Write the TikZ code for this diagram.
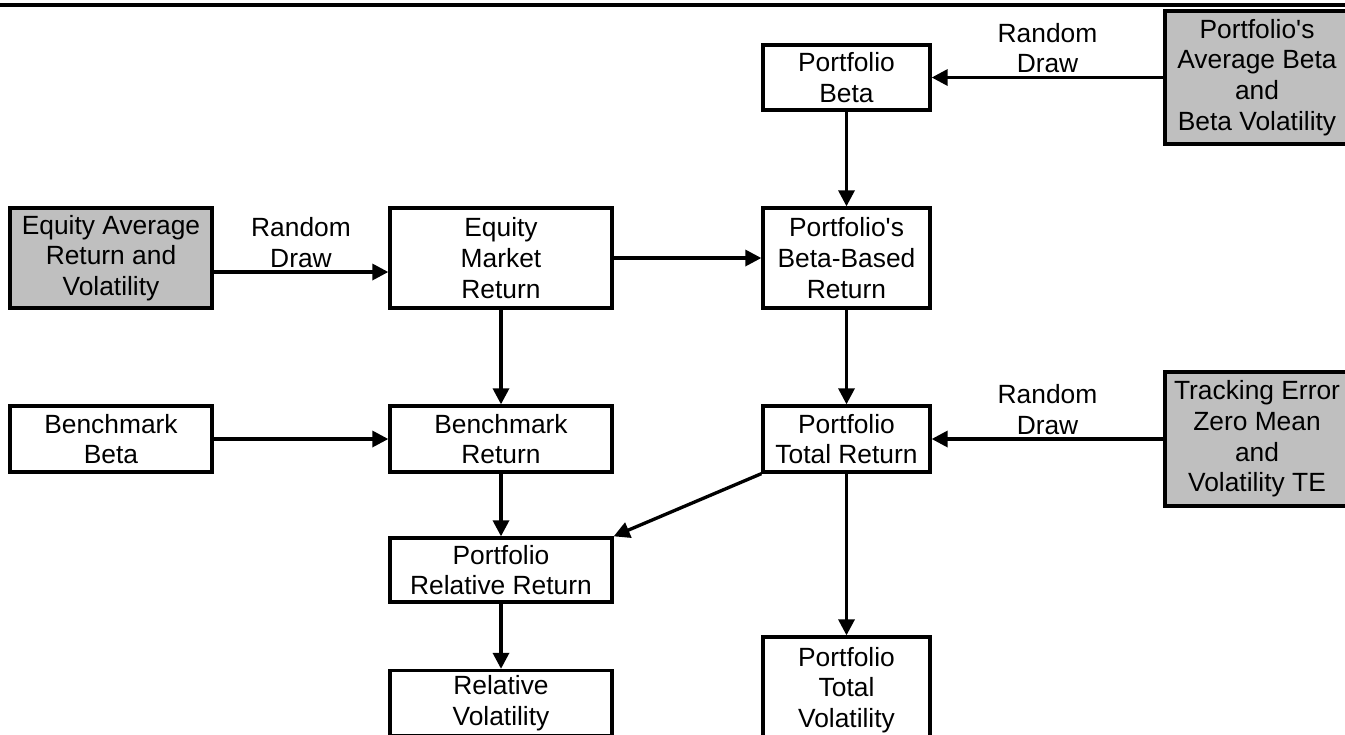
\documentclass[tikz,border=0pt]{standalone}
\usepackage{fontspec}
\setmainfont{Liberation Sans}
\usetikzlibrary{arrows.meta}
\newcommand{\figfont}{\fontsize{15}{17.5}\selectfont}

\begin{document}
\begin{tikzpicture}[>={Triangle[length=0.32cm, width=0.32cm]}, node distance=7.8cm]
    \tikzstyle{format} = [draw, line width=1.9pt, rectangle, align=center,
	inner sep=0pt, font=\figfont]
    \tikzstyle{input} = [format, fill=black!25, minimum width=3.68cm]
    \tikzstyle{label} = [above, align=center, inner sep=1.5pt, font=\figfont]
	\useasboundingbox (0,0) rectangle (26.9,-14.68);
	\clip (0,0) rectangle (26.9,-14.68);
	\draw[line width=1.9pt] (0,-0.1) -- (26.9,-0.1);
	\path[->, line width=1.9pt]
		node[input, minimum width=4.04cm, minimum height=2cm] (EqIn) at (2.22,-5.16) {Equity Average\\Return and\\Volatility}
		node[format, minimum width=4.44cm, minimum height=2cm, right of=EqIn] (EqRet) {Equity\\Market\\Return}
		node[format, minimum width=3.34cm, minimum height=2cm, node distance=6.91cm, right of=EqRet] (BBRet) {Portfolio\textquotesingle s\\Beta-Based\\Return}
		node[format, minimum width=3.34cm, minimum height=1.3cm, node distance=3.61cm, above of=BBRet] (PBeta) {Portfolio\\Beta}
		node[input, minimum height=2.66cm, node distance=8.21cm, right of=PBeta] (PAvg) {Portfolio\textquotesingle s\\Average Beta\\and\\Beta Volatility}
		node[format, minimum width=4.44cm, minimum height=1.32cm, node distance=3.62cm, below of=EqRet] (BmRet) {Benchmark\\Return}
		node[format, minimum width=4.04cm, minimum height=1.32cm, left of=BmRet] (BmBeta) {Benchmark\\Beta}
		node[format, minimum width=3.34cm, minimum height=1.32cm, node distance=3.62cm, below of=BBRet] (TotRet) {Portfolio\\Total Return}
		node[input, minimum height=2.68cm, node distance=8.21cm, right of=TotRet] (TE) {Tracking Error\\Zero Mean\\and\\Volatility TE}
		node[format, minimum width=4.44cm, minimum height=1.28cm, node distance=2.62cm, below of=BmRet] (RelRet) {Portfolio\\Relative Return}
		node[format, minimum width=4.44cm, minimum height=1.3cm, node distance=2.66cm, below of=RelRet] (RelVol) {Relative\\Volatility}
		node[format, minimum width=3.34cm, minimum height=2.12cm, node distance=5.02cm, below of=TotRet] (TotVol) {Portfolio\\Total\\Volatility}
		([yshift=-0.28cm]EqIn.east) edge node[label] {Random\\Draw} ([yshift=-0.28cm]EqRet.west)
		(EqRet) edge (BBRet)
		(PAvg) edge node[label] {Random\\Draw} (PBeta)
		(PBeta) edge (BBRet)
		(EqRet) edge (BmRet)
		(BmBeta) edge (BmRet)
		(BBRet) edge (TotRet)
		(TE) edge node[label] {Random\\Draw} (TotRet)
		(BmRet) edge (RelRet)
		(TotRet.south west) edge (RelRet.north east)
		(RelRet) edge (RelVol)
		(TotRet) edge (TotVol)
		;
\end{tikzpicture}
\end{document}
